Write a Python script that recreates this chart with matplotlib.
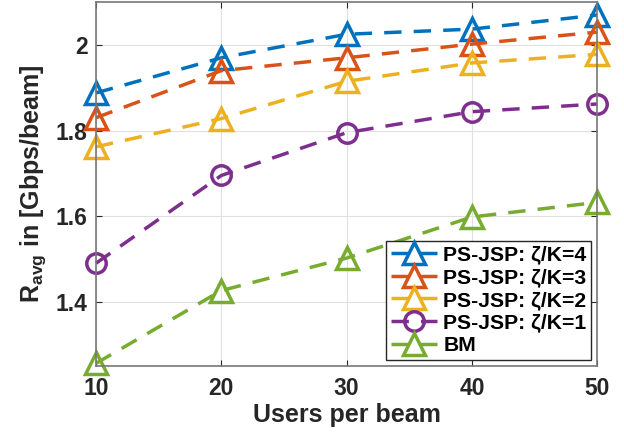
import numpy as np
import matplotlib.pyplot as plt

plt.rcParams['font.family'] = ['Liberation Sans', 'DejaVu Sans']
plt.rcParams['font.weight'] = 'bold'
plt.rcParams['mathtext.fontset'] = 'custom'
plt.rcParams['mathtext.bf'] = 'Liberation Sans:bold'
plt.rcParams['mathtext.rm'] = 'Liberation Sans:bold'

users = [10, 20, 30, 40, 50]
k4 = [1.888, 1.970, 2.025, 2.037, 2.070]
k3 = [1.830, 1.940, 1.970, 2.002, 2.030]
k2 = [1.762, 1.828, 1.915, 1.958, 1.978]
k1 = [1.490, 1.695, 1.795, 1.844, 1.862]
bm = [1.256, 1.426, 1.502, 1.598, 1.632]

labels = ['PS-JSP: ζ/K=4', 'PS-JSP: ζ/K=3', 'PS-JSP: ζ/K=2', 'PS-JSP: ζ/K=1', 'BM']
colors = ['#0072BD', '#D95319', '#EDB120', '#7E2F8E', '#77AC30']
markers = ['^', '^', '^', 'o', '^']

fig = plt.figure(figsize=(6.24, 4.34), dpi=100)
ax = fig.add_axes([0.154, 0.157, 0.803, 0.838])

for y, lab, c, m in zip([k4, k3, k2, k1, bm], labels, colors, markers):
    ms = 16 if m == '^' else 14
    ax.plot(users, y, linestyle='--', color=c, lw=2.5, marker=m, ms=ms,
            mfc='none', mew=2.5, label=lab, dashes=(5, 3.5), clip_on=False)

ax.set_xlim(10, 50)
ax.set_ylim(1.25, 2.1)
ax.set_xticks([10, 20, 30, 40, 50])
ax.set_yticks([1.4, 1.6, 1.8, 2.0])
ax.set_yticklabels(['1.4', '1.6', '1.8', '2'])
ax.grid(True, color='#e0e0e0', lw=0.8)
ax.set_axisbelow(True)
ax.tick_params(direction='in', labelsize=16.5, colors='#262626', length=4, top=True, right=True)
ax.tick_params(axis='x', pad=8)
ax.tick_params(axis='y', pad=6)
for s in ax.spines.values():
    s.set_color('#777777')
    s.set_linewidth(1.2)
for t in ax.get_xticklabels() + ax.get_yticklabels():
    t.set_fontweight('bold')

ax.set_xlabel('Users per beam', fontsize=18, fontweight='bold', color='#262626', labelpad=2)
ax.set_ylabel(r'R$_{\mathbf{avg}}$ in [Gbps/beam]', fontsize=18, fontweight='bold', color='#262626', labelpad=6)

leg = ax.legend(loc='lower right', fontsize=15.2, frameon=True, fancybox=False,
                edgecolor='#262626', framealpha=1, borderaxespad=0.3,
                handlelength=2.2, handletextpad=0.3, labelspacing=0.18, borderpad=0.2)
leg.get_frame().set_linewidth(1.0)
for t in leg.get_texts():
    t.set_fontweight('bold')

fig.savefig('out.png', dpi=100)
